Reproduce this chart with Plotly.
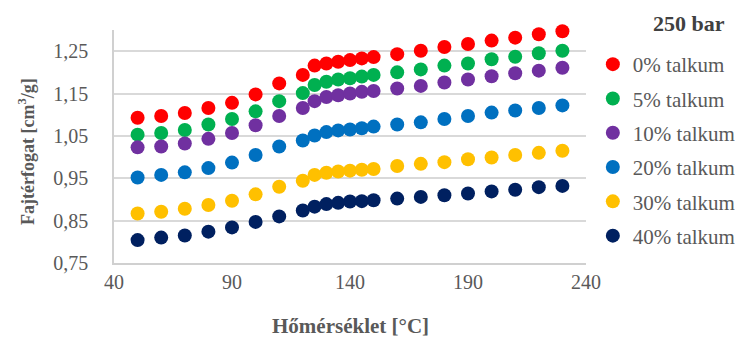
import plotly.graph_objects as go

temperature = [50, 60, 70, 80, 90, 100, 110, 120, 125, 130, 135, 140, 145, 150,
               160, 170, 180, 190, 200, 210, 220, 230]

talc_0 = [1.093, 1.097, 1.104, 1.116, 1.128, 1.148, 1.174, 1.194, 1.216, 1.221, 1.225,
          1.229, 1.233, 1.236, 1.243, 1.251, 1.260, 1.267, 1.275, 1.282, 1.290, 1.297]
talc_5 = [1.053, 1.057, 1.064, 1.077, 1.090, 1.108, 1.132, 1.151, 1.170, 1.178, 1.183,
          1.186, 1.190, 1.194, 1.200, 1.207, 1.216, 1.221, 1.231, 1.237, 1.245, 1.251]
talc_10 = [1.023, 1.025, 1.032, 1.043, 1.057, 1.075, 1.097, 1.116, 1.132, 1.142, 1.146,
           1.150, 1.154, 1.156, 1.162, 1.168, 1.176, 1.183, 1.191, 1.198, 1.204, 1.211]
talc_20 = [0.952, 0.958, 0.964, 0.974, 0.987, 1.005, 1.025, 1.039, 1.051, 1.059, 1.063,
           1.065, 1.068, 1.072, 1.077, 1.082, 1.090, 1.097, 1.105, 1.110, 1.116, 1.122]
talc_30 = [0.867, 0.871, 0.878, 0.887, 0.897, 0.912, 0.930, 0.944, 0.958, 0.963, 0.966,
           0.968, 0.970, 0.972, 0.979, 0.984, 0.988, 0.995, 0.999, 1.005, 1.010, 1.015]
talc_40 = [0.804, 0.810, 0.815, 0.824, 0.834, 0.847, 0.860, 0.874, 0.883, 0.889, 0.892,
           0.895, 0.896, 0.898, 0.902, 0.906, 0.910, 0.914, 0.919, 0.923, 0.929, 0.932]

series_names = ["0% talkum", "5% talkum", "10% talkum", "20% talkum", "30% talkum", "40% talkum"]
series_values = [talc_0, talc_5, talc_10, talc_20, talc_30, talc_40]
series_colors = ["#FF0000", "#00B050", "#7030A0", "#0070C0", "#FFC000", "#002060"]

x_ticks = [40, 90, 140, 190, 240]
y_ticks = [0.75, 0.85, 0.95, 1.05, 1.15, 1.25]

FONT = "Liberation Serif"
GRAY = "#595959"

PL, PR, PT, PB = 114, 156, 30, 75
PW = 753 - PL - PR
PH = 338 - PT - PB


def px_x(px):
    return (px - PL) / PW


def px_y(py):
    return (338 - PB - py) / PH


fig = go.Figure()
for i, (name, vals, col) in enumerate(zip(series_names, series_values, series_colors)):
    fig.add_trace(go.Scatter(
        x=temperature, y=vals, mode="markers", name=name,
        legendgroup=f"g{i}",
        marker=dict(color=col, size=14, line=dict(width=0)),
        cliponaxis=False,
    ))

fig.update_layout(
    width=753, height=338,
    margin=dict(l=PL, r=PR, t=PT, b=PB),
    paper_bgcolor="white", plot_bgcolor="white",
    separators=",.",
    font=dict(family=FONT, color=GRAY, size=20),
    showlegend=True,
    legend=dict(
        x=px_x(604), xanchor="left", y=px_y(44), yanchor="top",
        font=dict(family=FONT, size=21, color=GRAY),
        tracegroupgap=4, itemwidth=30,
        bgcolor="rgba(0,0,0,0)",
    ),
    xaxis=dict(
        range=[40, 240], tickvals=x_ticks, ticktext=[str(v) for v in x_ticks],
        showgrid=False, zeroline=False,
        showline=True, linecolor="#d0d0d0", linewidth=1.5,
        ticks="", tickfont=dict(family=FONT, size=20, color=GRAY),
    ),
    yaxis=dict(
        range=[0.75, 1.30], tickvals=y_ticks, tickformat=".2f",
        showgrid=True, gridcolor="#d9d9d9", gridwidth=1.5, zeroline=False,
        showline=True, linecolor="#d0d0d0", linewidth=1.5,
        ticks="", ticklabelstandoff=20,
        tickfont=dict(family=FONT, size=20, color=GRAY),
    ),
    annotations=[
        dict(text="<b>250 bar</b>", xref="paper", yref="paper",
             x=px_x(664), xanchor="left", y=px_y(24), yanchor="middle",
             showarrow=False, font=dict(family=FONT, size=22, color="#404040")),
        dict(text="<b>Hőmérséklet [°C]</b>", xref="paper", yref="paper",
             x=px_x(356), xanchor="center", y=px_y(326), yanchor="middle",
             showarrow=False, font=dict(family=FONT, size=21, color=GRAY)),
        dict(text="<b>Fajtérfogat [cm<sup>3</sup>/g]</b>", xref="paper", yref="paper",
             x=px_x(24), xanchor="center", y=px_y(152), yanchor="middle",
             textangle=-90, showarrow=False, font=dict(family=FONT, size=18, color=GRAY)),
    ],
)

fig.write_html(
    "out.html",
    config={"displayModeBar": False},
    post_script="document.body.style.margin='0px';document.body.style.overflow='hidden';",
)
